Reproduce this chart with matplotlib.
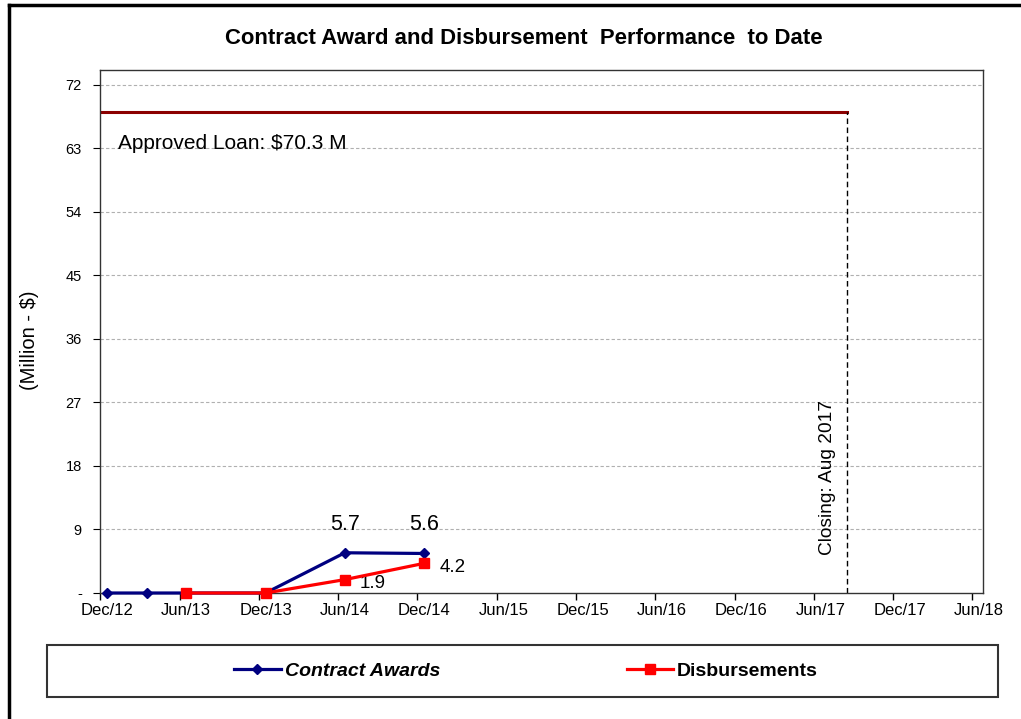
import matplotlib
matplotlib.use("Agg")
import matplotlib.pyplot as plt
from matplotlib.lines import Line2D
from matplotlib.patches import Rectangle
from matplotlib.ticker import FuncFormatter

plt.rcParams['font.family'] = ['Liberation Sans', 'DejaVu Sans']

# months counted from Dec/12
tick_labels = ['Dec/12', 'Jun/13', 'Dec/13', 'Jun/14', 'Dec/14', 'Jun/15',
               'Dec/15', 'Jun/16', 'Dec/16', 'Jun/17', 'Dec/17', 'Jun/18']
tick_months = [0, 6, 12, 18, 24, 30, 36, 42, 48, 54, 60, 66]

award_months = [0, 3, 6, 12, 18, 24]
award_values = [0, 0, 0, 0, 5.7, 5.6]
disb_months = [6, 12, 18, 24]
disb_values = [0, 0, 1.9, 4.2]

loan_level = 68.2
closing_month = 56  # Aug 2017
y_ticks = [0, 9, 18, 27, 36, 45, 54, 63, 72]

fig = plt.figure(figsize=(10.21, 7.19), dpi=100)
W, H = 1021, 719
ax = fig.add_axes([100 / W, (H - 593) / H, (983 - 100) / W, (593 - 70) / H])

ax.set_xlim(-0.53, 66.3)
ax.set_ylim(0, 74.1)

for y in y_ticks[1:]:
    ax.axhline(y, color='#b0b0b0', linestyle=(0, (3, 2)), linewidth=0.8, zorder=0)

# approved loan and closing date
ax.plot([-0.53, closing_month], [loan_level, loan_level], color='#8b0000', linewidth=2.2, zorder=2)
ax.plot([closing_month, closing_month], [0, loan_level], color='black',
        linestyle=(0, (4, 2.5)), linewidth=1.0, zorder=2)
ax.text(0.8, 63.7, 'Approved Loan: $70.3 M', fontsize=15, va='center', ha='left')
ax.text(closing_month - 1.45, 5.4, 'Closing: Aug 2017', fontsize=13.8, rotation=90,
        ha='center', va='bottom')

ax.plot(award_months, award_values, color='#000080', marker='D', markersize=5,
        linewidth=2.3, label='Contract Awards', clip_on=False, zorder=4)
ax.plot(disb_months, disb_values, color='#ff0000', marker='s', markersize=7.5,
        linewidth=2.3, label='Disbursements', clip_on=False, zorder=5)

for m, v in zip(award_months[-2:], award_values[-2:]):
    ax.annotate(f'{v}', (m, v), xytext=(0, 13), textcoords='offset points',
                ha='center', va='bottom', fontsize=15.5)
for m, v in zip(disb_months[-2:], disb_values[-2:]):
    ax.annotate(f'{v}', (m, v), xytext=(11, -3), textcoords='offset points',
                ha='left', va='center', fontsize=13.5)

ax.set_xticks(tick_months)
ax.set_xticklabels(tick_labels)
ax.set_xticks([m - 0.5 for m in tick_months], minor=True)
ax.tick_params(axis='x', which='major', length=0, labelsize=12, pad=7)
ax.tick_params(axis='x', which='minor', length=5, direction='out', width=1)
ax.set_yticks(y_ticks)
ax.yaxis.set_major_formatter(FuncFormatter(lambda v, p: '-' if v == 0 else f'{int(v)}'))
ax.tick_params(axis='y', length=5, direction='out', labelsize=10.5, pad=8)
for s in ax.spines.values():
    s.set_color('#333333')
    s.set_linewidth(1.0)
ax.set_ylabel('(Million - $)', fontsize=14.5)
ax.yaxis.set_label_coords(-0.069, 0.484)

fig.text(524 / W, 1 - 38 / H, 'Contract Award and Disbursement  Performance  to Date',
         ha='center', va='center', fontsize=15.9, fontweight='bold')

# legend box
fig.add_artist(Rectangle((47 / W, 1 - 697 / H), (998 - 47) / W, (697 - 645) / H,
                         transform=fig.transFigure, fill=False, edgecolor='#333333', linewidth=1.5))
leg = fig.legend(loc='center', bbox_to_anchor=(526 / W, 1 - 671 / H), ncol=2,
                 frameon=False, handlelength=2.4, handletextpad=0.2, columnspacing=9.6,
                 numpoints=1, prop={'size': 14, 'weight': 'bold'})
leg.get_texts()[0].set_style('italic')

# outer border
fig.add_artist(Line2D([9 / W, 9 / W], [0, 1 - 5 / H], transform=fig.transFigure, color='black', linewidth=2.5))
fig.add_artist(Line2D([9 / W, 1], [1 - 5 / H, 1 - 5 / H], transform=fig.transFigure, color='black', linewidth=2.5))

fig.savefig('out.png', dpi=100)
